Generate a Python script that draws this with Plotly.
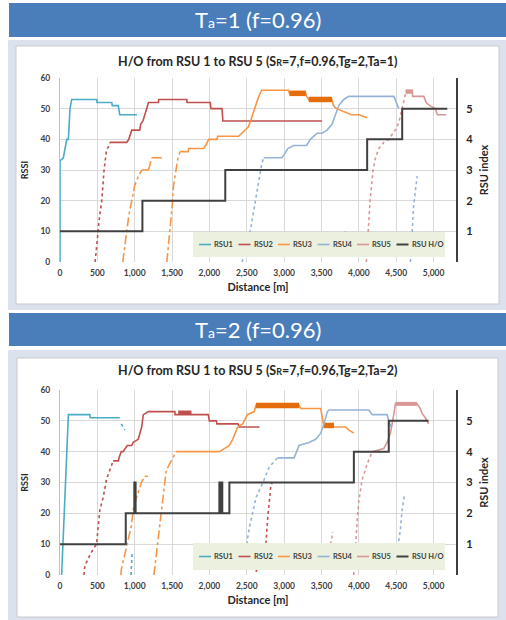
import plotly.graph_objects as go

W, H = 506, 620
FONT = "Lato"

SERIES = ["RSU1", "RSU2", "RSU3", "RSU4", "RSU5", "RSU H/O"]
COLORS = {"RSU1": "#4bacc6", "RSU2": "#c0504d", "RSU3": "#f79646",
          "RSU4": "#95b3d7", "RSU5": "#da9694", "RSU H/O": "#404040"}
RISE_DASH = {"RSU1": "dot", "RSU2": "dot", "RSU3": "dashdot", "RSU4": "dot", "RSU5": "dot"}

X_TICKS = [0, 500, 1000, 1500, 2000, 2500, 3000, 3500, 4000, 4500, 5000]
X_TICK_TEXT = ["0", "500", "1,000", "1,500", "2,000", "2,500", "3,000", "3,500", "4,000", "4,500", "5,000"]
RSSI_TICKS = [0, 10, 20, 30, 40, 50, 60]
RSU_TICKS = [1, 2, 3, 4, 5]

# ---------------- Ta = 1 ----------------
T1_RSU1_X = [0, 0, 45, 90, 112, 134, 157, 492, 495, 693, 700, 780, 800, 1030]
T1_RSU1_Y = [0, 33, 34, 40, 40, 50, 53, 53, 52, 52, 51, 51, 48, 48]
T1_RSU1_RISE_X = []
T1_RSU1_RISE_Y = []

T1_RSU2_RISE_X = [470, 500, 530, 559, 590, 620, 670]
T1_RSU2_RISE_Y = [0, 8, 15, 20, 30, 36, 39]
T1_RSU2_X = [670, 894, 920, 961, 1067, 1080, 1110, 1140, 1160, 1184, 1318, 1320, 1698, 1700, 2011, 2020, 2168, 2180, 3507]
T1_RSU2_Y = [39, 39, 40, 43, 43, 45, 46, 48, 50, 52, 52, 53, 53, 52, 52, 50, 50, 46, 46]

T1_RSU3_RISE_X = [840, 880, 920, 960, 1000, 1050, 1095, None, 1184, 1229, None, 1430, 1450, 1480, 1500, 1520, 1550, 1580, 1608]
T1_RSU3_RISE_Y = [0, 8, 15, 20, 25, 28, 30, None, 30, 34, None, 0, 5, 12, 18, 25, 30, 34, 36]
T1_RSU3_X = [1095, 1184, None, 1229, 1363, None, 1608, 1716, 1720, 1921, 1950, 1990, 2100, 2110, 2390, 2430, 2470,
             2520, 2550, 2590, 2630, 2660, 2700, 3060, 3070, 3290, 3300, 3328, 3641, 3660, 3700, 3800, 3900, 4000, 4111]
T1_RSU3_Y = [30, 30, None, 34, 34, None, 36, 36, 37, 37, 38, 40, 40, 41, 41, 42, 43,
             44, 46, 49, 52, 54, 56, 56, 55, 55, 54, 53, 53, 51, 50, 49, 48, 48, 47]
T1_RSU3_THICK_X = [3070, 3290, None, 3328, 3641]
T1_RSU3_THICK_Y = [55, 55, None, 53, 53]

T1_RSU4_RISE_X = [2435, 2500, 2560, 2614, 2660, 2700, 2725, None, 4690, 4714, 4732, 4760, 4781]
T1_RSU4_RISE_Y = [0, 5, 12, 20, 27, 32, 34, None, 0, 10, 18, 24, 28]
T1_RSU4_X = [2725, 2971, 3000, 3050, 3127, 3300, 3351, 3441, 3508, 3575, 3642, 3686, 3731, 3798, 3865, 4468, 4513, 4535]
T1_RSU4_Y = [34, 34, 35, 37, 38, 38, 40, 42, 42, 43, 45, 48, 51, 53, 54, 54, 51, 50]

T1_RSU5_RISE_X = [3815, 3830, None, 4100, 4130, 4150, 4190, 4223, 4267, 4334, 4401, 4460, 4513, 4550, 4580, 4625]
T1_RSU5_RISE_Y = [9, 11, None, 0, 12, 20, 30, 34, 37, 39, 40, 42, 44, 47, 50, 55]
T1_RSU5_X = [4625, 4714, 4720, 4870, 4900, 4950, 5026, 5050, 5170]
T1_RSU5_Y = [56, 56, 54, 54, 52, 51, 50, 48, 48]
T1_RSU5_THICK_X = [4625, 4714]
T1_RSU5_THICK_Y = [55.5, 55.5]

T1_HO_X = [0, 1103, 2212, 4111, 4580, 5183]
T1_HO_Y = [1, 2, 3, 4, 5, 5]

# ---------------- Ta = 2 ----------------
T2_RSU1_X = [22, 67, 89, 105, 112, 400, 405, 800]
T2_RSU1_Y = [0, 24, 37, 47, 52, 52, 51, 51]
T2_RSU1_RISE_X = [820, 870, None, 950, 965]
T2_RSU1_RISE_Y = [49, 47, None, 0, 7]

T2_RSU2_RISE_X = [320, 333, 410, 489, 533, 577, 622, 711, None, 2622, 2700, 2756, 2778, 2822, 2840]
T2_RSU2_RISE_Y = [0, 3, 7, 10, 21, 25, 31, 37, None, 1, 5, 10, 18, 29, 30]
T2_RSU2_X = [711, 781, 790, 820, 844, 870, 900, 960, 980, 1047, 1070, 1093, 1115, 1182, 1538, 1540, 1984, 2000,
             2093, 2100, 2382, 2400, 2670]
T2_RSU2_Y = [37, 37, 38, 40, 40, 41, 42, 42, 43, 44, 46, 48, 52, 53, 53, 52, 52, 50,
             50, 49, 49, 48, 48]
T2_RSU2_THICK_X = [1582, 1760]
T2_RSU2_THICK_Y = [52.7, 52.7]

T2_RSU3_RISE_X = [815, 822, 889, 956, 978, 1022, 1089, 1133, None, 1257, 1267, 1311, 1356, 1378, 1422, 1489, 1556]
T2_RSU3_RISE_Y = [0, 2, 9, 16, 21, 25, 30, 32, None, 0, 2, 11, 21, 24, 34, 37, 40]
T2_RSU3_X = [1133, 1178, None, 1556, 2133, 2200, 2267, 2311, 2378, 2444, 2507, 2600, 2622, 3200, 3222, 3489, 3533,
             3822, 3867, 3933]
T2_RSU3_Y = [32, 32, None, 40, 40, 41, 42, 44, 48, 49, 52, 53, 55, 55, 54, 54, 48,
             48, 47, 46]
T2_RSU3_THICK_X = [2622, 3200, None, 3533, 3667]
T2_RSU3_THICK_Y = [55, 55, None, 48.5, 48.5]

T2_RSU4_RISE_X = [2500, 2511, 2540, 2578, 2622, 2733, 2800, 2911, None, 4533, 4556, 4578, 4600, 4610]
T2_RSU4_RISE_Y = [8, 12, 16, 20, 25, 31, 35, 38, None, 11, 15, 21, 24, 26]
T2_RSU4_X = [2911, 3133, 3200, 3333, 3422, 3489, 3533, 3578, 3600, 4133, 4178, 4378, 4400, 4430]
T2_RSU4_Y = [38, 38, 42, 43, 44, 46, 49, 53, 53.5, 53.5, 52, 52, 50, 48]

T2_RSU5_RISE_X = [3610, 3633, 3650, None, 3930, 3945, 3956, 3978, 4000, 4044, 4111, 4178]
T2_RSU5_RISE_Y = [8, 11, 14, None, 0, 6, 11, 18, 24, 31, 36, 40]
T2_RSU5_X = [4178, 4333, 4378, 4422, 4467, 4489, 4778, 4822, 4844, 4889, 4933]
T2_RSU5_Y = [40, 41, 43, 46, 52, 55.5, 55.5, 54, 52.5, 51, 49]
T2_RSU5_THICK_X = [4489, 4778]
T2_RSU5_THICK_Y = [55.5, 55.5]

T2_HO_X = [0, 880, 995, 1000, 1005, 1012, 2133, 2145, 2160, 2172, 2267, 3933, 4400, 4933]
T2_HO_Y = [1, 2, 3, 2, 3, 2, 3, 2, 3, 2, 3, 4, 5, 5]

CHARTS = [
    {
        "header": "T<span style='font-size:14px'>a</span>=1 (f=0.96)",
        "title": "H/O from RSU 1 to RSU 5 (S<span style='font-size:9px'>R</span>=7,f=0.96,Tg=2,Ta=1)",
        "solid": {"RSU1": (T1_RSU1_X, T1_RSU1_Y), "RSU2": (T1_RSU2_X, T1_RSU2_Y), "RSU3": (T1_RSU3_X, T1_RSU3_Y),
                  "RSU4": (T1_RSU4_X, T1_RSU4_Y), "RSU5": (T1_RSU5_X, T1_RSU5_Y)},
        "rise": {"RSU1": (T1_RSU1_RISE_X, T1_RSU1_RISE_Y), "RSU2": (T1_RSU2_RISE_X, T1_RSU2_RISE_Y),
                 "RSU3": (T1_RSU3_RISE_X, T1_RSU3_RISE_Y), "RSU4": (T1_RSU4_RISE_X, T1_RSU4_RISE_Y),
                 "RSU5": (T1_RSU5_RISE_X, T1_RSU5_RISE_Y)},
        "thick": {"RSU3": (T1_RSU3_THICK_X, T1_RSU3_THICK_Y), "RSU5": (T1_RSU5_THICK_X, T1_RSU5_THICK_Y)},
        "ho": (T1_HO_X, T1_HO_Y),
        # pixel layout
        "panel": (8, 40, 506, 310), "box": (16, 46, 499, 304), "bar": (9, 3, 506, 37),
        "plot": (60, 78, 456, 262), "title_y": 62, "legend": (193, 232, 445, 257),
    },
    {
        "header": "T<span style='font-size:14px'>a</span>=2 (f=0.96)",
        "title": "H/O from RSU 1 to RSU 5 (S<span style='font-size:9px'>R</span>=7,f=0.96,Tg=2,Ta=2)",
        "solid": {"RSU1": (T2_RSU1_X, T2_RSU1_Y), "RSU2": (T2_RSU2_X, T2_RSU2_Y), "RSU3": (T2_RSU3_X, T2_RSU3_Y),
                  "RSU4": (T2_RSU4_X, T2_RSU4_Y), "RSU5": (T2_RSU5_X, T2_RSU5_Y)},
        "rise": {"RSU1": (T2_RSU1_RISE_X, T2_RSU1_RISE_Y), "RSU2": (T2_RSU2_RISE_X, T2_RSU2_RISE_Y),
                 "RSU3": (T2_RSU3_RISE_X, T2_RSU3_RISE_Y), "RSU4": (T2_RSU4_RISE_X, T2_RSU4_RISE_Y),
                 "RSU5": (T2_RSU5_RISE_X, T2_RSU5_RISE_Y)},
        "thick": {"RSU2": (T2_RSU2_THICK_X, T2_RSU2_THICK_Y), "RSU3": (T2_RSU3_THICK_X, T2_RSU3_THICK_Y),
                  "RSU5": (T2_RSU5_THICK_X, T2_RSU5_THICK_Y)},
        "ho": (T2_HO_X, T2_HO_Y),
        "panel": (8, 350, 506, 620), "box": (17, 358, 498, 617), "bar": (9, 313, 506, 346),
        "plot": (60, 390, 456, 575), "title_y": 370, "legend": (193, 543, 445, 570),
    },
]


def px(x):
    return x / W


def py(y):
    return 1 - y / H


fig = go.Figure()
shapes = []
annotations = []
layout = {}

for i, ch in enumerate(CHARTS):
    xa = "x" if i == 0 else "x2"
    ya = "y" if i == 0 else "y3"
    ya2 = "y2" if i == 0 else "y4"

    for name in SERIES[:5]:
        rx, ry = ch["rise"][name]
        if rx:
            fig.add_trace(go.Scatter(x=rx, y=ry, mode="lines", xaxis=xa, yaxis=ya, showlegend=False,
                                     line=dict(color=COLORS[name], width=1.6, dash=RISE_DASH[name]),
                                     connectgaps=False, hoverinfo="skip"))
        sx, sy = ch["solid"][name]
        fig.add_trace(go.Scatter(x=sx, y=sy, mode="lines", xaxis=xa, yaxis=ya, showlegend=False,
                                 line=dict(color=COLORS[name], width=1.6), connectgaps=False, name=name))
        if name in ch["thick"]:
            tx, ty = ch["thick"][name]
            fig.add_trace(go.Scatter(x=tx, y=ty, mode="lines", xaxis=xa, yaxis=ya, showlegend=False,
                                     line=dict(color="#e46c0a" if name == "RSU3" else COLORS[name],
                                               width=5.5 if name == "RSU3" else 4),
                                     connectgaps=False, hoverinfo="skip"))
    hx, hy = ch["ho"]
    fig.add_trace(go.Scatter(x=hx, y=hy, mode="lines", xaxis=xa, yaxis=ya2, showlegend=False, name="RSU H/O",
                             line=dict(color=COLORS["RSU H/O"], width=2, shape="hv")))

    x0, y0, x1, y1 = ch["plot"]
    tickfont = dict(family=FONT, size=8.5, color="#404040", weight="bold")
    layout["xaxis" + ("" if i == 0 else "2")] = dict(
        domain=[px(x0), px(x1)], anchor=ya, range=[0, 5300], tickvals=X_TICKS, ticktext=X_TICK_TEXT,
        showgrid=True, gridcolor="#d9d9d9", gridwidth=1, zeroline=False, showline=False, ticks="",
        tickfont=tickfont, fixedrange=True, automargin=False, ticklabelstandoff=4,
        title=dict(text="Distance [m]", font=dict(family=FONT, size=11, color="#262626", weight="bold"),
                   standoff=6))
    layout["yaxis" + ("" if i == 0 else "3")] = dict(
        domain=[py(y1), py(y0)], anchor=xa, range=[0, 60], tickvals=RSSI_TICKS,
        showgrid=True, gridcolor="#d9d9d9", zeroline=False, showline=True, linecolor="#bfbfbf", ticks="",
        tickfont=tickfont, ticklabelstandoff=7, automargin=False, fixedrange=True,
        title=dict(text="RSSI", font=dict(family=FONT, size=9, color="#262626", weight="bold"), standoff=10))
    layout["yaxis" + ("2" if i == 0 else "4")] = dict(
        domain=[py(y1), py(y0)], anchor=xa, overlaying=ya, side="right", range=[0, 6], tickvals=RSU_TICKS,
        showgrid=False, zeroline=False, showline=True, linecolor="#404040", linewidth=2, ticks="",
        tickfont=dict(family=FONT, size=11, color="#262626", weight="bold"), ticklabelstandoff=6,
        automargin=False, fixedrange=True,
        title=dict(text="RSU index", font=dict(family=FONT, size=11, color="#262626", weight="bold"),
                   standoff=8))

    # decoration
    a, b, c, d = ch["panel"]
    shapes.append(dict(type="rect", xref="paper", yref="paper", x0=px(a), x1=px(c), y0=py(d), y1=py(b),
                       fillcolor="#dbe2ee", line=dict(width=0), layer="below"))
    a, b, c, d = ch["box"]
    shapes.append(dict(type="rect", xref="paper", yref="paper", x0=px(a), x1=px(c), y0=py(d), y1=py(b),
                       fillcolor="white", line=dict(width=1, color="#c9c9c9"), layer="below"))
    a, b, c, d = ch["bar"]
    shapes.append(dict(type="rect", xref="paper", yref="paper", x0=px(a), x1=px(c), y0=py(d), y1=py(b),
                       fillcolor="#4a7ebb", line=dict(width=0), layer="below"))
    annotations.append(dict(xref="paper", yref="paper", x=px(258), y=py((b + d) / 2), text=ch["header"],
                            showarrow=False, xanchor="center", yanchor="middle",
                            font=dict(family=FONT, size=22, color="white")))
    annotations.append(dict(xref="paper", yref="paper", x=px(258), y=py(ch["title_y"]), text=ch["title"],
                            showarrow=False, xanchor="center", yanchor="middle",
                            font=dict(family=FONT, size=12.5, color="#262626", weight="bold")))

    # legend (manual, compact like the original)
    a, b, c, d = ch["legend"]
    shapes.append(dict(type="rect", xref="paper", yref="paper", x0=px(a), x1=px(c), y0=py(d), y1=py(b),
                       fillcolor="#ebf1de", line=dict(width=0), layer="above"))
    ly = (b + d) / 2
    lx0 = a + 6
    step = 39.5
    for k, name in enumerate(SERIES):
        sx = lx0 + k * step
        shapes.append(dict(type="line", xref="paper", yref="paper", x0=px(sx), x1=px(sx + 12),
                           y0=py(ly), y1=py(ly), line=dict(color=COLORS[name], width=2 if k == 5 else 1.6),
                           layer="above"))
        annotations.append(dict(xref="paper", yref="paper", x=px(sx + 13), y=py(ly), text=name,
                                showarrow=False, xanchor="left", yanchor="middle",
                                font=dict(family=FONT, size=7.5, color="#404040", weight="bold")))

fig.update_layout(
    width=W, height=H, margin=dict(l=0, r=0, t=0, b=0, autoexpand=False),
    paper_bgcolor="white", plot_bgcolor="white",
    showlegend=False, shapes=shapes, annotations=annotations,
    font=dict(family=FONT, color="#404040"),
    **layout,
)

fig.write_html("out.html", config={"displayModeBar": False},
               post_script="document.body.style.margin='0';document.body.style.overflow='hidden';")
